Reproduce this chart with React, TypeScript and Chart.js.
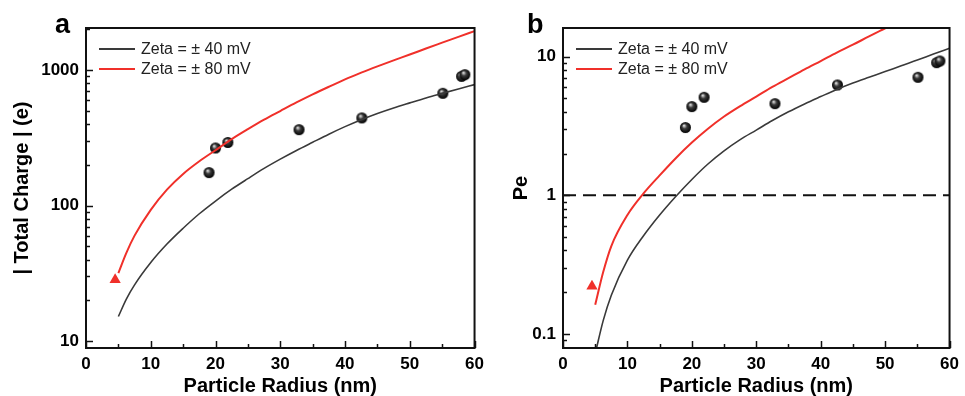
import React, { useEffect, useRef } from "react";
import { Chart, registerables } from "chart.js";

Chart.register(...registerables);

const FONT = "'Liberation Sans', Arial, Helvetica, sans-serif";

// ---------- shared ----------
const legendLabels = ["Zeta = ± 40 mV", "Zeta = ± 80 mV"];
const xTickValues = [0, 10, 20, 30, 40, 50, 60];
const xMinorStep = 5;
const xTitle = "Particle Radius (nm)";

// ---------- panel a : total charge ----------
const chargeRadius = [5, 6.25, 7.5, 10, 12.5, 15, 17.5, 20, 22.5, 25, 27.5, 30, 32.5, 35, 37.5, 40, 42.5, 45, 47.5, 50, 52.5, 55, 57.5, 60];
const charge40 = [15.2, 20.5, 26, 38, 52, 68, 87, 108, 132, 158, 188, 220, 255, 293, 336, 382, 430, 478, 525, 572, 622, 672, 725, 780];
const charge80 = [31.8, 45, 60, 93, 131, 171, 212, 256, 309, 366, 430, 498, 576, 661, 752, 852, 955, 1063, 1178, 1300, 1440, 1590, 1755, 1935];
const expRadius = [19.0, 20.0, 21.9, 32.9, 42.6, 55.1, 58.0, 58.5];
const expCharge = [175, 266, 292, 363, 443, 673, 898, 924];
const triRadius = [4.5];
const triCharge = [28.4];
const chargeTickLabels = [10, 100, 1000];
const chargeTitle = "| Total Charge | (e)";

// ---------- panel b : Peclet number ----------
const peRadius40 = [5, 6.25, 7.5, 10, 12.5, 15, 17.5, 20, 22.5, 25, 27.5, 30, 32.5, 35, 37.5, 40, 42.5, 45, 47.5, 50, 52.5, 55, 57.5, 60];
const pe40 = [0.072, 0.125, 0.19, 0.34, 0.51, 0.72, 0.98, 1.3, 1.68, 2.09, 2.52, 2.95, 3.46, 4.0, 4.56, 5.15, 5.8, 6.45, 7.1, 7.8, 8.6, 9.45, 10.45, 11.5];
const peRadius80 = [5, 6.25, 7.5, 10, 12.5, 15, 17.5, 20, 22.5, 25, 27.5, 30, 32.5, 35, 37.5, 40, 42.5, 45, 47.5, 50, 52.5];
const pe80 = [0.162, 0.28, 0.43, 0.72, 1.03, 1.39, 1.85, 2.4, 3.02, 3.7, 4.4, 5.15, 6.05, 7.0, 8.1, 9.3, 10.7, 12.2, 14.0, 16.0, 18.0];
const expPe = [3.08, 4.36, 5.09, 4.58, 6.25, 7.1, 9.05, 9.31];
const triPe = [0.22];
const peThresholdX = [0, 60];
const peThresholdY = [1, 1];
const peTickLabels = [0.1, 1, 10];
const peTitle = "Pe";

const BLACK_LINE = "#3a3a3a";
const RED_LINE = "#f0302a";

const zip = (xs: number[], ys: number[]) => xs.map((x, i) => ({ x, y: ys[i] }));

function makeSphere(r: number): HTMLCanvasElement {
  const c = document.createElement("canvas");
  const s = Math.ceil(r * 2 + 2);
  c.width = s;
  c.height = s;
  const g = c.getContext("2d")!;
  const cx = s / 2;
  const cy = s / 2;
  const grad = g.createRadialGradient(cx - r * 0.3, cy - r * 0.4, 0, cx, cy, r);
  grad.addColorStop(0, "#ffffff");
  grad.addColorStop(0.18, "#b0b0b0");
  grad.addColorStop(0.45, "#3a3a3a");
  grad.addColorStop(1, "#000000");
  g.fillStyle = grad;
  g.beginPath();
  g.arc(cx, cy, r, 0, Math.PI * 2);
  g.fill();
  return c;
}

function decorPlugin(letter: string, letterX: number) {
  return {
    id: "decor" + letter,
    afterDraw(chart: any) {
      const { ctx, chartArea: ca, scales } = chart;
      const xs = scales.x;
      const ys = scales.y;
      ctx.save();
      ctx.strokeStyle = "#111";
      ctx.lineWidth = 1.5;
      // x ticks (inside)
      for (let v = xs.min; v <= xs.max + 1e-9; v += xMinorStep) {
        const px = Math.round(xs.getPixelForValue(v)) + 0.5;
        const major = xTickValues.some((t) => Math.abs(t - v) < 1e-9);
        ctx.beginPath();
        ctx.moveTo(px, ca.bottom);
        ctx.lineTo(px, ca.bottom - (major ? 7 : 4));
        ctx.stroke();
      }
      // y ticks (inside)
      ys.ticks.forEach((t: any) => {
        const v = t.value;
        if (v < ys.min || v > ys.max) return;
        const e = Math.floor(Math.log10(v) + 1e-9);
        const mant = v / Math.pow(10, e);
        if (Math.abs(mant - Math.round(mant)) > 1e-6) return;
        const major = Math.abs(mant - 1) < 1e-6;
        const py = Math.round(ys.getPixelForValue(v)) + 0.5;
        ctx.beginPath();
        ctx.moveTo(ca.left, py);
        ctx.lineTo(ca.left + (major ? 7 : 4), py);
        ctx.stroke();
      });
      // frame
      ctx.lineWidth = 2;
      ctx.strokeStyle = "#111";
      ctx.strokeRect(ca.left, ca.top, ca.right - ca.left, ca.bottom - ca.top);
      // legend
      const ds = chart.data.datasets;
      ctx.font = `16px ${FONT}`;
      ctx.textBaseline = "middle";
      ctx.textAlign = "left";
      for (let i = 0; i < 2; i++) {
        const y = ca.top + 21 + i * 20;
        ctx.strokeStyle = ds[i].borderColor;
        ctx.lineWidth = 2;
        ctx.beginPath();
        ctx.moveTo(ca.left + 13, y);
        ctx.lineTo(ca.left + 49, y);
        ctx.stroke();
        ctx.fillStyle = "#222";
        ctx.fillText(ds[i].label, ca.left + 55, y + 1);
      }
      // panel letter
      ctx.font = `bold 27px ${FONT}`;
      ctx.fillStyle = "#000";
      ctx.textBaseline = "alphabetic";
      ctx.fillText(letter, letterX, 33);
      ctx.restore();
    },
  };
}

function makeConfig(opts: {
  letter: string;
  letterX: number;
  yWidth: number;
  rightPad: number;
  yTitlePad: number;
  yMin: number;
  yMax: number;
  yTitle: string;
  yLabels: number[];
  datasets: any[];
}): any {
  const tickFont = { family: FONT, size: 17, weight: "bold" as const };
  return {
    type: "line",
    data: { datasets: opts.datasets },
    options: {
      animation: false,
      responsive: false,
      layout: { padding: { top: 28, right: opts.rightPad, left: 0, bottom: 0 } },
      plugins: { legend: { display: false }, tooltip: { enabled: false } },
      scales: {
        x: {
          type: "linear",
          min: 0,
          max: 60,
          afterFit: (s: any) => {
            s.height = 48;
          },
          grid: { display: false, drawTicks: false },
          border: { display: false },
          ticks: {
            stepSize: 10,
            padding: 6,
            color: "#000",
            font: tickFont,
            maxRotation: 0,
          },
          title: {
            display: true,
            text: xTitle,
            color: "#000",
            font: { family: FONT, size: 20, weight: "bold", lineHeight: 1 },
            padding: { top: 0, bottom: 0 },
          },
        },
        y: {
          type: "logarithmic",
          min: opts.yMin,
          max: opts.yMax,
          afterFit: (s: any) => {
            s.width = opts.yWidth;
          },
          grid: { display: false, drawTicks: false },
          border: { display: false },
          ticks: {
            autoSkip: false,
            padding: 7,
            color: "#000",
            font: tickFont,
            callback: (v: any) => {
              const val = Number(v);
              const hit = opts.yLabels.find((t) => Math.abs(val - t) / t < 1e-6);
              return hit !== undefined ? String(hit) : "";
            },
          },
          title: {
            display: true,
            text: opts.yTitle,
            color: "#000",
            font: { family: FONT, size: 20, weight: "bold", lineHeight: 1 },
            padding: { top: opts.yTitlePad, bottom: 0 },
          },
        },
      },
    },
    plugins: [decorPlugin(opts.letter, opts.letterX)],
  };
}

function curve(label: string, color: string, width: number, xs: number[], ys: number[]) {
  return {
    label,
    data: zip(xs, ys),
    borderColor: color,
    borderWidth: width,
    pointRadius: 0,
    fill: false,
    cubicInterpolationMode: "monotone",
  };
}

function scatter(label: string, xs: number[], ys: number[], style: any, color: string, radius: number) {
  return {
    label,
    data: zip(xs, ys),
    showLine: false,
    pointStyle: style,
    pointRadius: radius,
    pointBackgroundColor: color,
    pointBorderColor: color,
    pointBorderWidth: 0,
    borderColor: color,
  };
}

export default function App() {
  const refA = useRef<HTMLCanvasElement>(null);
  const refB = useRef<HTMLCanvasElement>(null);

  useEffect(() => {
    const sphere = makeSphere(5.5);
    const chartA = new Chart(
      refA.current!,
      makeConfig({
        letter: "a",
        letterX: 55,
        yWidth: 86,
        rightPad: 10,
        yTitlePad: 12,
        yMin: 8.9,
        yMax: 2040,
        yTitle: chargeTitle,
        yLabels: chargeTickLabels,
        datasets: [
          curve(legendLabels[0], BLACK_LINE, 1.6, chargeRadius, charge40),
          curve(legendLabels[1], RED_LINE, 2, chargeRadius, charge80),
          scatter("Experiment", expRadius, expCharge, sphere, "#000", 5.5),
          scatter("Small particle", triRadius, triCharge, "triangle", RED_LINE, 6.5),
        ],
      })
    );
    const chartB = new Chart(
      refB.current!,
      makeConfig({
        letter: "b",
        letterX: 37,
        yWidth: 73,
        rightPad: 8,
        yTitlePad: 21,
        yMin: 0.079,
        yMax: 16.1,
        yTitle: peTitle,
        yLabels: peTickLabels,
        datasets: [
          curve(legendLabels[0], BLACK_LINE, 1.6, peRadius40, pe40),
          curve(legendLabels[1], RED_LINE, 2, peRadius80, pe80),
          {
            label: "Pe = 1",
            data: zip(peThresholdX, peThresholdY),
            borderColor: "#111",
            borderWidth: 2,
            borderDash: [13, 7],
            pointRadius: 0,
            fill: false,
          },
          scatter("Experiment", expRadius, expPe, sphere, "#000", 5.5),
          scatter("Small particle", triRadius, triPe, "triangle", RED_LINE, 6.5),
        ],
      })
    );
    return () => {
      chartA.destroy();
      chartB.destroy();
    };
  }, []);

  return (
    <div style={{ position: "absolute", left: 0, top: 0, width: 965, height: 396, background: "#fff" }}>
      <canvas ref={refA} width={490} height={396} style={{ position: "absolute", left: 0, top: 0 }} />
      <canvas ref={refB} width={475} height={396} style={{ position: "absolute", left: 490, top: 0 }} />
    </div>
  );
}
